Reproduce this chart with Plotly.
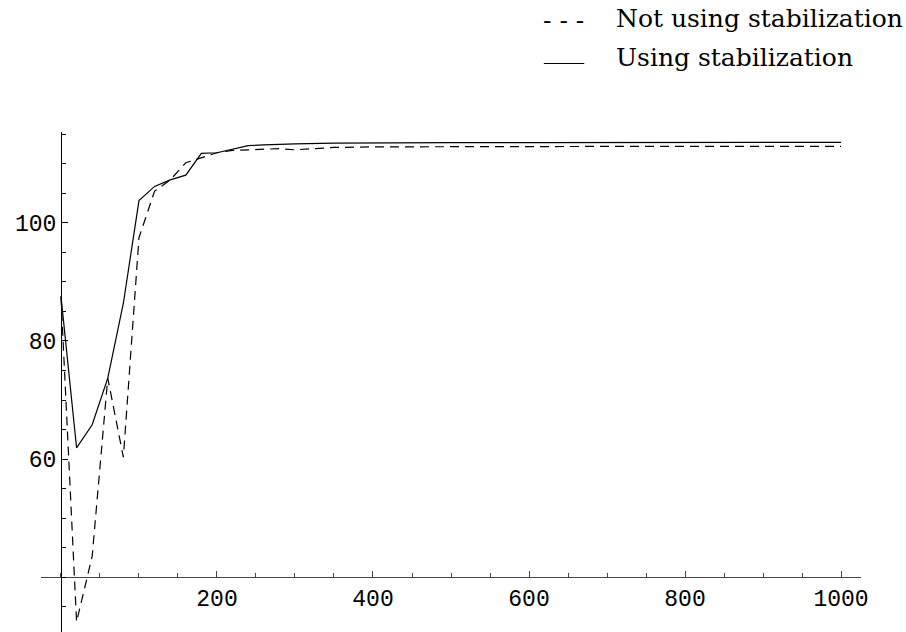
import plotly.graph_objects as go

# ---- data ----
x_vals = [0, 20, 40, 60, 80, 100, 120, 140, 160, 180, 200, 220, 240, 260, 280, 300,
          350, 400, 500, 600, 700, 800, 900, 1000]
not_stab = [87.5, 32.4, 43.5, 73.7, 60.3, 97.5, 105.4, 107.3, 110.2, 111.1, 111.9, 112.3,
            112.4, 112.5, 112.6, 112.4, 112.8, 112.9, 112.95, 113.0, 113.0, 113.0, 113.0, 113.0]
with_stab = [87.6, 61.9, 65.8, 73.7, 86.4, 103.8, 106.2, 107.3, 108.1, 111.8, 111.9, 112.5,
             113.1, 113.25, 113.35, 113.4, 113.55, 113.6, 113.62, 113.63, 113.64, 113.65, 113.65, 113.65]
x_ticks = [200, 400, 600, 800, 1000]
y_ticks = [60, 80, 100]
legend_labels = ["Not using stabilization", "Using stabilization"]

# ---- geometry ----
W, H = 906, 632
ML, MR, MT, MB = 41, 45, 132, 0
x_range = [-25.6, 1025.6]
y_range = [30.68, 115.42]
x_cross, y_cross = 0, 40
xpos = (y_cross - y_range[0]) / (y_range[1] - y_range[0])
ypos = (x_cross - x_range[0]) / (x_range[1] - x_range[0])

fig = go.Figure()
fig.add_trace(go.Scatter(x=x_vals, y=not_stab, mode="lines", name=legend_labels[0],
                         line=dict(color="black", width=1.2, dash="9px,6px")))
fig.add_trace(go.Scatter(x=x_vals, y=with_stab, mode="lines", name=legend_labels[1],
                         line=dict(color="black", width=1.2)))

tickfont = dict(family="Liberation Mono", size=23, color="black")
axis_color = "#444444"

fig.update_layout(
    width=W, height=H,
    margin=dict(l=ML, r=MR, t=MT, b=MB, autoexpand=False),
    paper_bgcolor="white", plot_bgcolor="white",
    showlegend=False,
    xaxis=dict(range=x_range, anchor="free", position=xpos, side="bottom",
               showgrid=False, zeroline=False, showline=True, linecolor=axis_color,
               linewidth=1.3, tickmode="array", tickvals=x_ticks,
               ticks="inside", ticklen=6, tickwidth=1, tickcolor=axis_color,
               tickfont=tickfont,
               minor=dict(tickmode="linear", tick0=0, dtick=50, ticks="inside",
                          ticklen=4, tickwidth=1, tickcolor=axis_color, showgrid=False)),
    yaxis=dict(range=y_range, anchor="free", position=ypos, side="left",
               showgrid=False, zeroline=False, showline=True, linecolor="black",
               linewidth=1, tickmode="array", tickvals=y_ticks,
               ticks="inside", ticklen=6, tickwidth=1, tickcolor="black",
               tickfont=tickfont,
               minor=dict(tickmode="linear", tick0=0, dtick=5, ticks="inside",
                          ticklen=4, tickwidth=1, tickcolor="black", showgrid=False)),
)

def px_x(p):
    return (p - ML) / (W - ML - MR)

def px_y(p):
    return 1 + (MT - p) / (H - MT - MB)

legend_font = dict(family="DejaVu Serif", size=25, color="black")
symbol_fonts = [dict(family="DejaVu Serif", size=25, color="black"),
                dict(family="Liberation Serif", size=20, color="black")]
symbols = ["- - -", "\u2014\u2014"]
rows_y = [18, 57]
symbol_y = [20, 62]
for sym, sf, lab, ry, sy in zip(symbols, symbol_fonts, legend_labels, rows_y, symbol_y):
    fig.add_annotation(xref="paper", yref="paper", x=px_x(541), y=px_y(sy),
                       text=sym, showarrow=False, xanchor="left", yanchor="middle",
                       font=sf)
    fig.add_annotation(xref="paper", yref="paper", x=px_x(614), y=px_y(ry),
                       text=lab, showarrow=False, xanchor="left", yanchor="middle",
                       font=legend_font)

fig.write_html("out.html")
